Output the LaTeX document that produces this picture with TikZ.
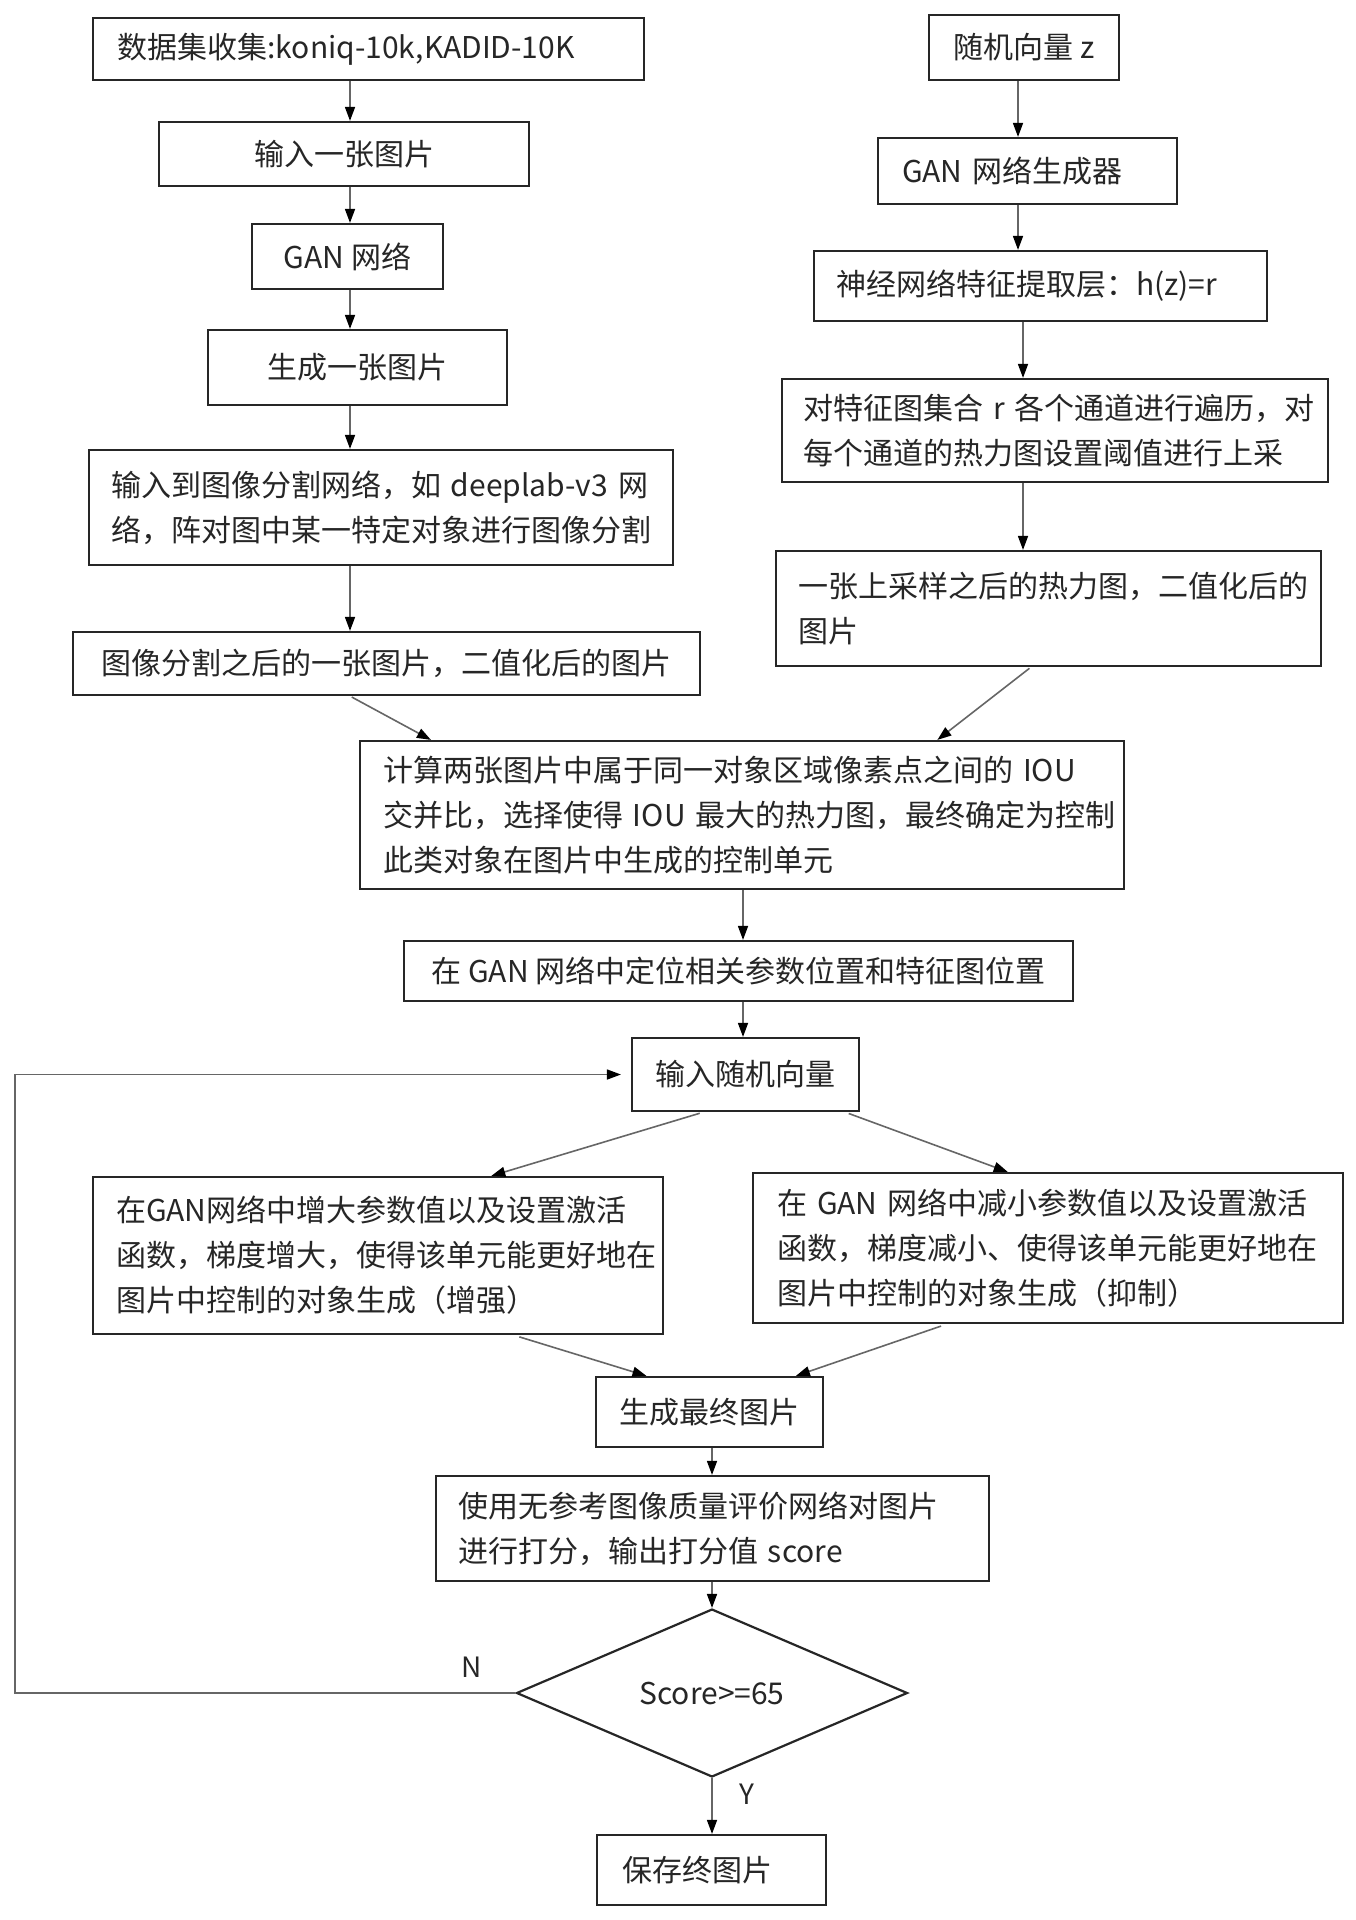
\documentclass[tikz,border=0pt]{standalone}
\usepackage{fontspec}
\newfontfamily\cjk{Noto Sans CJK SC}
\usetikzlibrary{arrows.meta,shapes.geometric,calc}
\tikzset{
  box/.style={draw=black!85, line width=1.1pt, inner sep=0pt, text=black!85,
    font=\cjk\fontsize{15pt}{22.5pt}\selectfont},
  conn/.style={draw=black!60, line width=0.8pt,
    -{Triangle[length=7pt,width=5pt,color=black]}},
  lbl/.style={text=black!85, font=\cjk\fontsize{14pt}{16pt}\selectfont}
}
\begin{document}
\begin{tikzpicture}[x=0.5pt,y=-0.5pt]
\path[use as bounding box, fill=white] (0,0) rectangle (1355,1920);
\coordinate (colL) at (350,0);
\coordinate (colR1) at (1018,0);
\coordinate (colR2) at (1023,0);
\coordinate (colC) at (743,0);
\coordinate (colF) at (712,0);
\coordinate (lx) at (15,0);
% left column
\node[box, minimum width=275.5pt, minimum height=31pt, text width=251pt, align=left] (b1) at (368.5,49) {\mbox{数据集收集:koniq-10k,KADID-10K}};
\node[box, minimum width=185pt, minimum height=32pt, align=center] (b2) at (344,154) {输入一张图片};
\node[box, minimum width=95.5pt, minimum height=32.5pt, align=center] (b3) at (347.5,256.5) {GAN 网络};
\node[box, minimum width=149.5pt, minimum height=37.5pt, align=center] (b4) at (357.5,367.5) {生成一张图片};
\node[box, minimum width=292pt, minimum height=57.5pt, text width=270pt, align=left] (b5) at (381,507.5) {\mbox{输入到图像分割网络，如 deeplab-v3 网}\\\mbox{络，阵对图中某一特定对象进行图像分割}};
\node[box, minimum width=313.5pt, minimum height=31.5pt, align=center] (b6) at (386.5,663.5) {图像分割之后的一张图片，二值化后的图片};
% right column
\node[box, minimum width=95pt, minimum height=32.5pt, align=center] (r1) at (1024,47.5) {随机向量 z};
\node[box, minimum width=149.5pt, minimum height=33pt, text width=125.5pt, align=left] (r2) at (1027.5,171) {\mbox{GAN 网络生成器}};
\node[box, minimum width=226.5pt, minimum height=35pt, text width=204.5pt, align=left] (r3) at (1040.5,286) {\mbox{神经网络特征提取层：h(z)=r}};
\node[box, minimum width=273pt, minimum height=51.5pt, text width=252pt, align=left] (r4) at (1055,430.5) {\mbox{对特征图集合 r 各个通道进行遍历，对}\\\mbox{每个通道的热力图设置阈值进行上采}};
\node[box, minimum width=272.5pt, minimum height=57.5pt, text width=250pt, align=left] (r5) at (1048.5,608.5) {\mbox{一张上采样之后的热力图，二值化后的}\\\mbox{图片}};
% center
\node[box, minimum width=382pt, minimum height=74pt, text width=359pt, align=left] (c1) at (742,815) {\mbox{计算两张图片中属于同一对象区域像素点之间的 IOU}\\\mbox{交并比，选择使得 IOU 最大的热力图，最终确定为控制}\\\mbox{此类对象在图片中生成的控制单元}};
\node[box, minimum width=334.5pt, minimum height=30pt, align=center] (c2) at (738.5,971) {在 GAN 网络中定位相关参数位置和特征图位置};
\node[box, minimum width=113.5pt, minimum height=36.5pt, align=center] (c3) at (745.5,1074.5) {输入随机向量};
\node[box, minimum width=285pt, minimum height=78.5pt, text width=262pt, align=left] (lb) at (378,1255.5) {\mbox{在GAN网络中增大参数值以及设置激活}\\\mbox{函数，梯度增大，使得该单元能更好地在}\\\mbox{图片中控制的对象生成（增强）}};
\node[box, minimum width=295pt, minimum height=75pt, text width=271pt, align=left] (rb) at (1048,1248) {\mbox{在 GAN 网络中减小参数值以及设置激活}\\\mbox{函数，梯度减小、使得该单元能更好地在}\\\mbox{图片中控制的对象生成（抑制）}};
\node[box, minimum width=113.5pt, minimum height=35pt, align=center] (f) at (709.5,1412) {生成最终图片};
\node[box, minimum width=276.5pt, minimum height=52.5pt, text width=254.5pt, align=left] (s) at (712.5,1528.5) {\mbox{使用无参考图像质量评价网络对图片}\\\mbox{进行打分，输出打分值 score}};
\node[box, shape=diamond, minimum width=195.5pt, minimum height=68.5pt, align=center] (d) at (712,1693) {Score>=65};
\node[box, minimum width=114.5pt, minimum height=35pt, text width=89.5pt, align=left] (fin) at (711.5,1870) {\mbox{保存终图片}};
% connectors left
\draw[conn] (b1.south -| colL) -- (b2.north -| colL);
\draw[conn] (b2.south -| colL) -- (b3.north -| colL);
\draw[conn] (b3.south -| colL) -- (b4.north -| colL);
\draw[conn] (b4.south -| colL) -- (b5.north -| colL);
\draw[conn] (b5.south -| colL) -- (b6.north -| colL);
% connectors right
\draw[conn] (r1.south -| colR1) -- (r2.north -| colR1);
\draw[conn] (r2.south -| colR1) -- (r3.north -| colR1);
\draw[conn] (r3.south -| colR2) -- (r4.north -| colR2);
\draw[conn] (r4.south -| colR2) -- (r5.north -| colR2);
% merge
\draw[conn, shorten <=1pt] ($(b6.south west)!0.442!(b6.south east)$) -- ($(c1.north west)!0.094!(c1.north east)$);
\draw[conn, shorten <=1pt] ($(r5.south west)!0.468!(r5.south east)$) -- ($(c1.north west)!0.755!(c1.north east)$);
\draw[conn] (c1.south -| colC) -- (c2.north -| colC);
\draw[conn] (c2.south -| colC) -- (c3.north -| colC);
% split
\draw[conn, shorten <=2pt] ($(c3.south west)!0.317!(c3.south east)$) -- ($(lb.north west)!0.698!(lb.north east)$);
\draw[conn, shorten <=2pt] ($(c3.south west)!0.934!(c3.south east)$) -- ($(rb.north west)!0.432!(rb.north east)$);
\draw[conn, shorten <=3pt] ($(lb.south west)!0.737!(lb.south east)$) -- ($(f.north west)!0.225!(f.north east)$);
\draw[conn, shorten <=3pt] ($(rb.south west)!0.329!(rb.south east)$) -- ($(f.north west)!0.877!(f.north east)$);
\draw[conn] (f.south -| colF) -- (s.north -| colF);
\draw[conn] (s.south -| colF) -- (d.north);
\draw[conn] (d.south) -- (fin.north -| d.south);
% loop back
\draw[conn, shorten >=5pt] (d.west) -- (d.west -| lx) -- (lx |- c3.west) -- (c3.west);
\node[lbl] (nlab) at (472,1667) {N};
\node[lbl] (ylab) at (747,1794) {Y};
\end{tikzpicture}
\end{document}
